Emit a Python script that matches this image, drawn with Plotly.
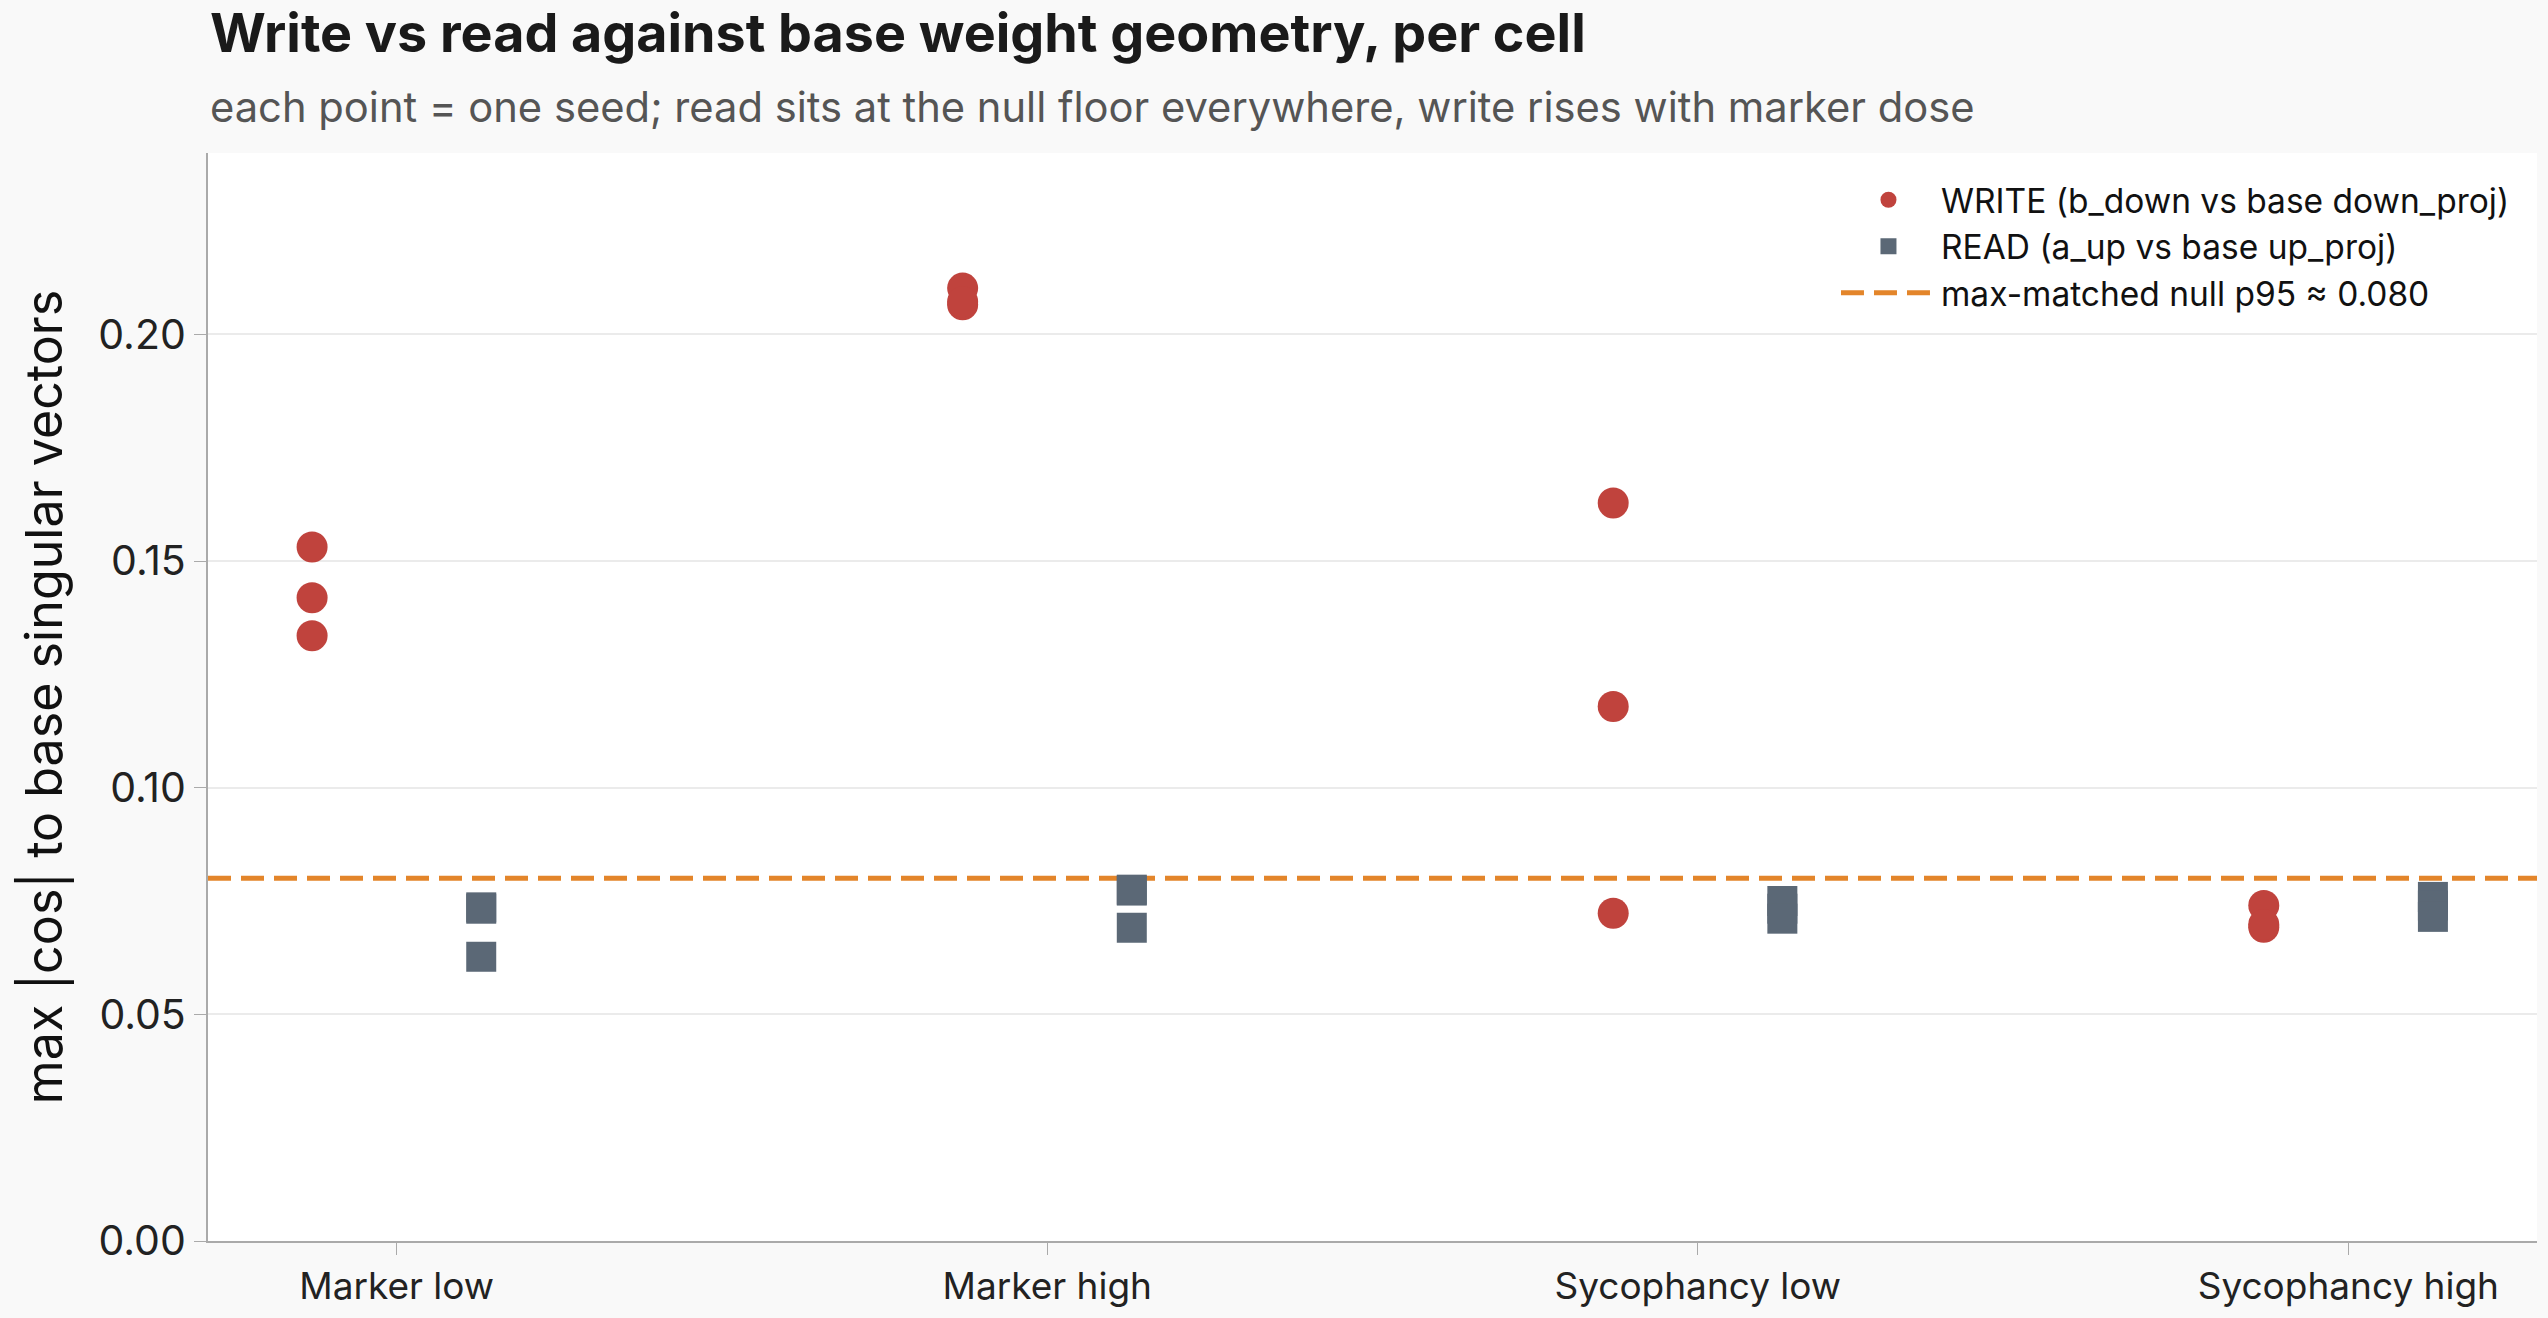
import plotly.graph_objects as go

categories = ["Marker low", "Marker high", "Sycophancy low", "Sycophancy high"]
write_vals = [
    [0.1531, 0.1419, 0.1335],
    [0.2102, 0.2065, 0.2072],
    [0.1628, 0.1179, 0.0723],
    [0.0740, 0.0692, 0.0698],
]
read_vals = [
    [0.0736, 0.0733, 0.0627],
    [0.0773, 0.0691, 0.0775],
    [0.0750, 0.0733, 0.0711],
    [0.0759, 0.0740, 0.0715],
]
null_p95 = 0.080
y_ticks = [0.00, 0.05, 0.10, 0.15, 0.20]

RED = "#C0433D"
SLATE = "#5B6876"
ORANGE = "#E3852A"
FONT = "Inter"
OFFSET = 0.13

wx, wy, rx, ry = [], [], [], []
for i, (wv, rv) in enumerate(zip(write_vals, read_vals)):
    for v in wv:
        wx.append(i - OFFSET)
        wy.append(v)
    for v in rv:
        rx.append(i + OFFSET)
        ry.append(v)

fig = go.Figure()
fig.add_trace(go.Scatter(
    x=wx, y=wy, mode="markers", name="WRITE (b_down vs base down_proj)",
    marker=dict(symbol="circle", size=31, color=RED, line=dict(width=0)),
))
fig.add_trace(go.Scatter(
    x=rx, y=ry, mode="markers", name="READ (a_up vs base up_proj)",
    marker=dict(symbol="square", size=30, color=SLATE, line=dict(width=0)),
))
fig.add_trace(go.Scatter(
    x=[None], y=[None], mode="lines", name=f"max-matched null p95 ≈ {null_p95:.3f}",
    line=dict(color=ORANGE, width=5, dash="23px,10px"),
))
fig.add_shape(
    type="line", xref="paper", x0=0, x1=1, yref="y", y0=null_p95, y1=null_p95,
    line=dict(color=ORANGE, width=5, dash="23px,10px"), layer="below",
)

fig.update_layout(
    width=2548, height=1318,
    margin=dict(l=208, r=11, t=153, b=77),
    paper_bgcolor="#F9F9F9",
    plot_bgcolor="#FFFFFF",
    font=dict(family=FONT, color="#222222", size=36),
    showlegend=True,
    legend=dict(
        x=0.699, xanchor="left", y=0.983, yanchor="top",
        bgcolor="rgba(0,0,0,0)", borderwidth=0,
        font=dict(family=FONT, size=33.5, color="#111111"),
        itemwidth=95, tracegroupgap=0,
    ),
    annotations=[
        dict(text="<b>Write vs read against base weight geometry, per cell</b>",
             xref="paper", yref="paper", x=0, y=1 + 120 / 1088, xanchor="left", yanchor="middle",
             showarrow=False, font=dict(family=FONT, size=53.8, color="#1a1a1a")),
        dict(text="each point = one seed; read sits at the null floor everywhere, write rises with marker dose",
             xref="paper", yref="paper", x=0, y=1 + 46 / 1088, xanchor="left", yanchor="middle",
             showarrow=False, font=dict(family=FONT, size=41.7, color="#555555")),
    ],
    xaxis=dict(
        range=[-0.29, 3.29], tickmode="array", tickvals=list(range(len(categories))),
        ticktext=categories, showgrid=False, zeroline=False,
        showline=True, linecolor="#AAAAAA", linewidth=2,
        ticks="outside", ticklen=12, tickcolor="#AAAAAA", tickwidth=1,
        tickfont=dict(family=FONT, size=37, color="#222222"),
    ),
    yaxis=dict(
        range=[0, 0.24], tickmode="array", tickvals=y_ticks,
        ticktext=[f"{v:.2f}" for v in y_ticks],
        showgrid=True, gridcolor="#EBEBEB", gridwidth=2, zeroline=False,
        showline=True, linecolor="#AAAAAA", linewidth=2,
        ticks="outside", ticklen=12, tickcolor="#AAAAAA", tickwidth=1,
        tickfont=dict(family=FONT, size=41, color="#222222"),
        title=dict(text="max |cos| to base singular vectors",
                   font=dict(family=FONT, size=50.2, color="#111111"), standoff=20),
    ),
)

fig.write_html("out.html")
